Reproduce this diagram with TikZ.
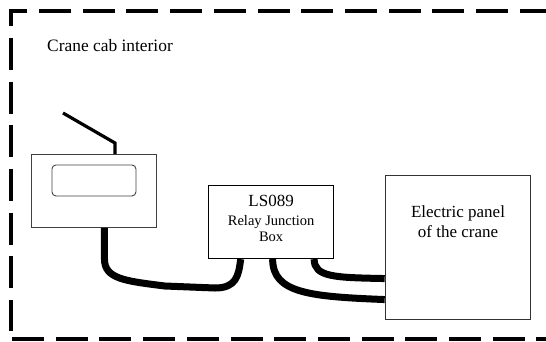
\documentclass[tikz,border=0pt]{standalone}
\usepackage{fontspec}
\setmainfont{Liberation Serif}
\usetikzlibrary{positioning}

\begin{document}
\begin{tikzpicture}[
    x=1pt, y=-1pt,
    node distance=11pt and 52pt,
    device/.style={draw=black!75, rectangle, line width=0.9pt, inner sep=0pt, minimum width=125pt, minimum height=73pt},
    junction/.style={device, draw=black, line width=1.5pt},
    panel/.style={device, draw=black!80, line width=1.1pt, minimum width=145.5pt, minimum height=144pt},
    label/.style={inner sep=0pt, align=center},
    cable/.style={line width=7pt, black},
    frame/.style={line width=4pt, black, dash pattern=on 32pt off 11.7pt}
]
    \useasboundingbox (0,0) rectangle (546,341);

    \draw[frame, dash phase=5.7pt] (546,10.5) -- (11,10.5) -- (11,331);
    \draw[frame] (12,339) -- (546,339);

    \node[label, anchor=west, font=\fontsize{17.4}{20}\selectfont] (cab) at (47,46) {Crane cab interior};

    \node[device, anchor=north west] (radio) at (31,154) {};
    \node[draw=black!75, rectangle, rounded corners=4pt, line width=0.9pt, minimum width=84pt, minimum height=31pt, below=10.5pt of radio.north] (display) {};
    \node[junction, right=51pt of radio.south east, yshift=6pt] (relay) {};
    \node[panel, anchor=north west] (board) at (384.7,175) {};

    \node[label, font=\fontsize{17}{20}\selectfont, below=22pt of relay.north, anchor=base] (relayname) {LS089};
    \node[label, font=\fontsize{14.5}{16}\selectfont, below=31pt of relay.north] (relaytext) {Relay Junction\\Box};
    \node[label, font=\fontsize{17}{20}\selectfont, below=30pt of board.north] (boardtext) {Electric panel\\of the crane};

    \coordinate (tip) at (63,113);
    \coordinate (bend) at (115,143);
    \draw[line width=3.2pt, miter limit=2] (tip) -- (bend) -- (bend |- radio.north);

    \coordinate (sag1) at (165,286);
    \coordinate (sag2) at (215,288);
    \draw[cable] ([xshift=10.5pt]radio.south) -- ++(0,31)
        .. controls +(0,20) and +(-40,-5) .. (sag1) -- (sag2)
        .. controls +(21,0) and +(-2,17) .. ([xshift=-30.5pt]relay.south);
    \draw[cable] ([xshift=1.5pt]relay.south)
        .. controls +(0,34) and +(-75,-3) .. ([yshift=-52pt]board.west);
    \draw[cable] ([xshift=43pt]relay.south)
        .. controls +(0,18) and +(-50,-1) .. ([yshift=-31pt]board.west);
\end{tikzpicture}
\end{document}
